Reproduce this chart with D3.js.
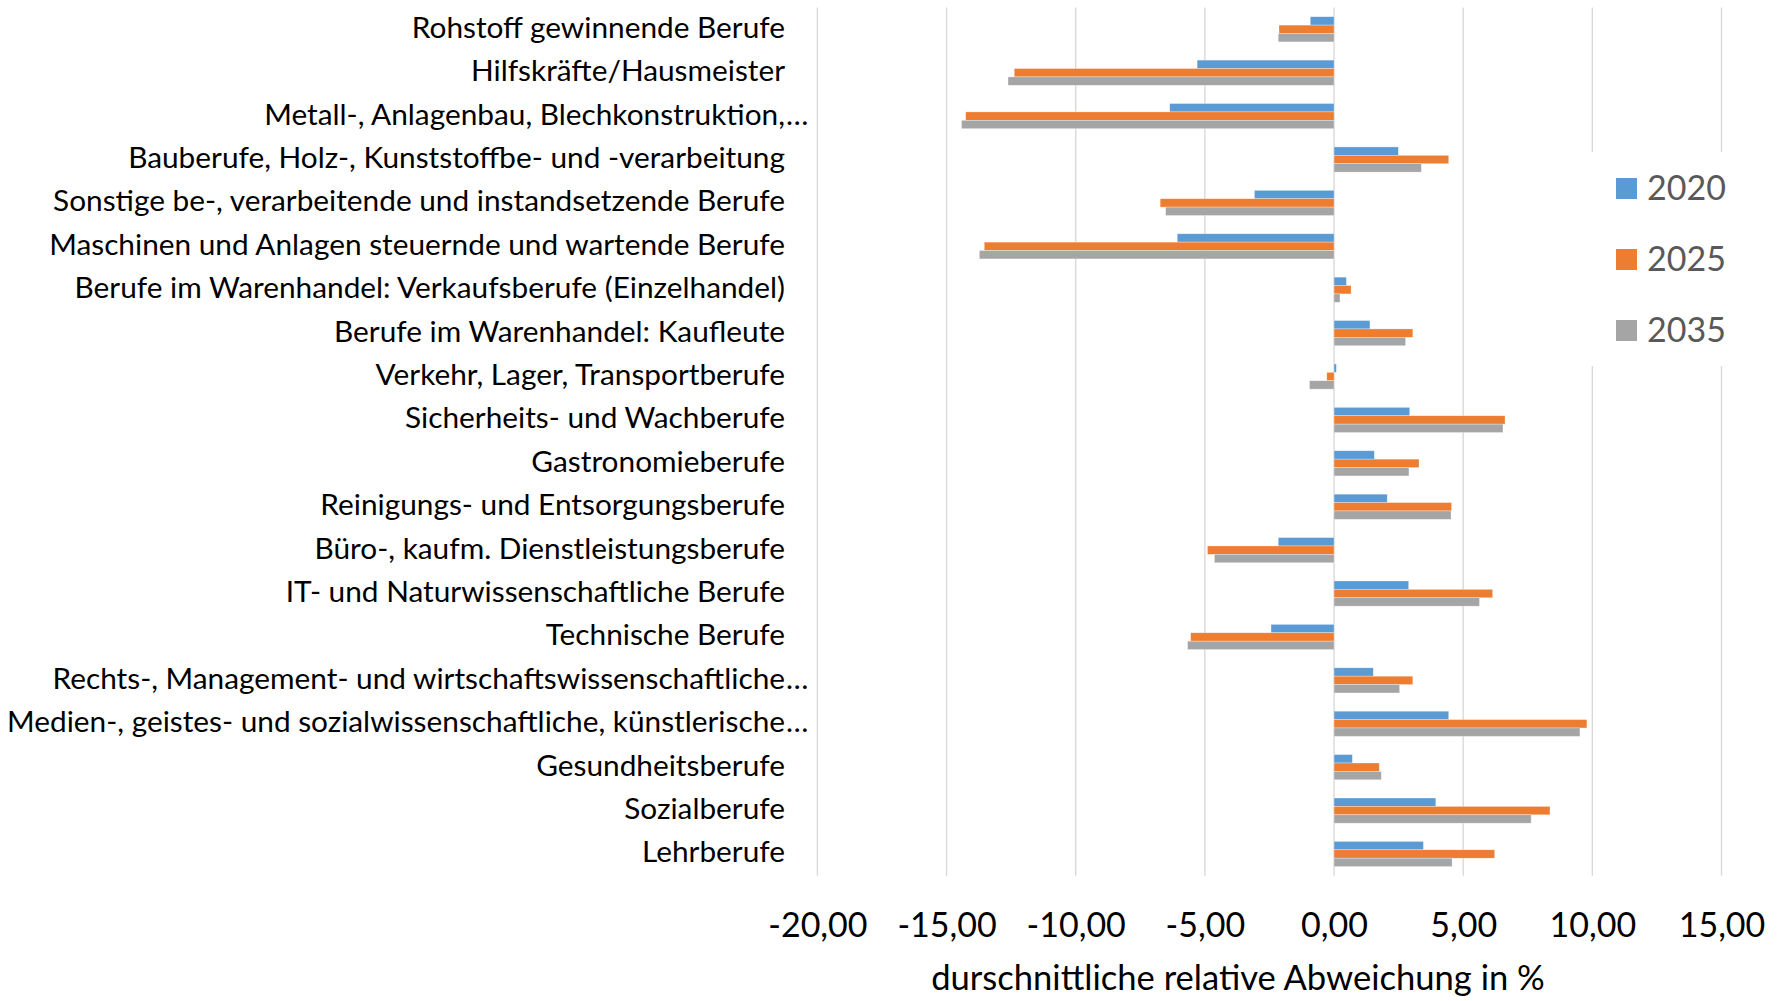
<!DOCTYPE html>
<html>
<head>
<meta charset="utf-8">
<script src="https://cdn.jsdelivr.net/npm/d3@7"></script>
<style>
  body { margin: 0; background: #fff; }
  svg text { font-family: Lato, "Open Sans", sans-serif; }
</style>
</head>
<body>
<svg id="chart" width="1781" height="1001"></svg>
<script>
// categories, top to bottom
const categories = [
  "Rohstoff gewinnende Berufe",
  "Hilfskräfte/Hausmeister",
  "Metall-, Anlagenbau, Blechkonstruktion,…",
  "Bauberufe, Holz-, Kunststoffbe- und -verarbeitung",
  "Sonstige be-, verarbeitende und instandsetzende Berufe",
  "Maschinen und Anlagen steuernde und wartende Berufe",
  "Berufe im Warenhandel: Verkaufsberufe (Einzelhandel)",
  "Berufe im Warenhandel: Kaufleute",
  "Verkehr, Lager, Transportberufe",
  "Sicherheits- und Wachberufe",
  "Gastronomieberufe",
  "Reinigungs- und Entsorgungsberufe",
  "Büro-, kaufm. Dienstleistungsberufe",
  "IT- und Naturwissenschaftliche Berufe",
  "Technische Berufe",
  "Rechts-, Management- und wirtschaftswissenschaftliche…",
  "Medien-, geistes- und sozialwissenschaftliche, künstlerische…",
  "Gesundheitsberufe",
  "Sozialberufe",
  "Lehrberufe"
];

const series = ["2020", "2025", "2035"];
const values2020 = [-0.92, -5.30, -6.36, 2.49, -3.08, -6.07, 0.48, 1.39, 0.09, 2.93, 1.56, 2.06, -2.16, 2.89, -2.44, 1.52, 4.44, 0.71, 3.94, 3.46];
const values2025 = [-2.13, -12.38, -14.26, 4.44, -6.73, -13.54, 0.66, 3.05, -0.28, 6.62, 3.29, 4.55, -4.90, 6.14, -5.55, 3.05, 9.79, 1.75, 8.36, 6.22];
const values2035 = [-2.16, -12.62, -14.42, 3.38, -6.52, -13.73, 0.23, 2.77, -0.95, 6.54, 2.90, 4.53, -4.63, 5.63, -5.67, 2.54, 9.52, 1.83, 7.63, 4.57];
const seriesColors = ["#5B9BD5", "#ED7D31", "#A5A5A5"];

const tickValues = [-20, -15, -10, -5, 0, 5, 10, 15];
const axisTitle = "durschnittliche relative Abweichung in %";

const allValues = [values2020, values2025, values2035];
const rows = categories.map((c, i) => ({
  name: c,
  vals: series.map((s, j) => ({ key: s, value: allValues[j][i] }))
}));

const svg = d3.select("#chart");

const x = d3.scaleLinear().domain([-20, 15]).range([817.4, 1721.5]);
const y = d3.scaleBand().domain(categories).range([7.6, 875.7])
  .paddingInner(0.42).paddingOuter(0.21);
const ySub = d3.scaleBand().domain(series).range([0, y.bandwidth()]);
const color = d3.scaleOrdinal().domain(series).range(seriesColors);

// gridlines
svg.append("g")
  .selectAll("line")
  .data(tickValues)
  .join("line")
  .attr("x1", d => x(d)).attr("x2", d => x(d))
  .attr("y1", 7.6).attr("y2", 875.7)
  .attr("stroke", "#d9d9d9")
  .attr("stroke-width", 1.4);

// bars
const groups = svg.append("g")
  .selectAll("g")
  .data(rows)
  .join("g")
  .attr("transform", d => `translate(0,${y(d.name)})`);

groups.selectAll("rect")
  .data(d => d.vals)
  .join("rect")
  .attr("x", d => x(Math.min(0, d.value)))
  .attr("y", d => ySub(d.key))
  .attr("width", d => Math.abs(x(d.value) - x(0)))
  .attr("height", ySub.bandwidth())
  .attr("fill", d => color(d.key))
  .attr("stroke", "#fff")
  .attr("stroke-opacity", 0.5)
  .attr("stroke-width", 0.6);

// category labels (right aligned, truncated ones spill the ellipsis)
const labelX = 785;
const labels = svg.append("g")
  .selectAll("g")
  .data(categories)
  .join("g")
  .attr("transform", d => `translate(${labelX},${y(d) + y.bandwidth() / 2 - 3})`);

labels.append("text")
  .attr("text-anchor", "end")
  .attr("dominant-baseline", "central")
  .style("font-size", "29.8px")
  .attr("fill", "#000")
  .text(d => d.endsWith("…") ? d.slice(0, -1) : d);

labels.filter(d => d.endsWith("…"))
  .append("text")
  .attr("x", 1)
  .attr("dominant-baseline", "central")
  .style("font-size", "29.8px")
  .attr("fill", "#000")
  .text("…");

// x axis tick labels
const xAxis = d3.axisBottom(x)
  .tickValues(tickValues)
  .tickSize(0)
  .tickFormat(d => d3.format(".2f")(d).replace(".", ",").replace("−", "-"));

svg.append("g")
  .attr("transform", "translate(0,913)")
  .call(xAxis)
  .call(g => g.select(".domain").remove())
  .call(g => g.selectAll("text")
    .attr("y", 0)
    .attr("dy", "0.72em")
    .style("font-size", "34px")
    .style("font-family", "Lato, 'Open Sans', sans-serif")
    .attr("fill", "#000"));

// axis title
svg.append("text")
  .attr("x", 1238)
  .attr("y", 990)
  .attr("text-anchor", "middle")
  .style("font-size", "34.6px")
  .attr("fill", "#000")
  .text(axisTitle);

// legend
const legend = svg.append("g");
legend.append("rect")
  .attr("x", 1588).attr("y", 152)
  .attr("width", 160).attr("height", 214)
  .attr("fill", "#fff");

const legendItems = legend.selectAll(".legend-item")
  .data(series)
  .join("g")
  .attr("transform", (d, i) => `translate(1616,${178 + i * 71})`);

legendItems.append("rect")
  .attr("width", 21)
  .attr("height", 21)
  .attr("fill", d => color(d));

legendItems.append("text")
  .attr("x", 31)
  .attr("y", 8)
  .attr("dominant-baseline", "central")
  .style("font-size", "34px")
  .attr("fill", "#595959")
  .text(d => d);
</script>
</body>
</html>
